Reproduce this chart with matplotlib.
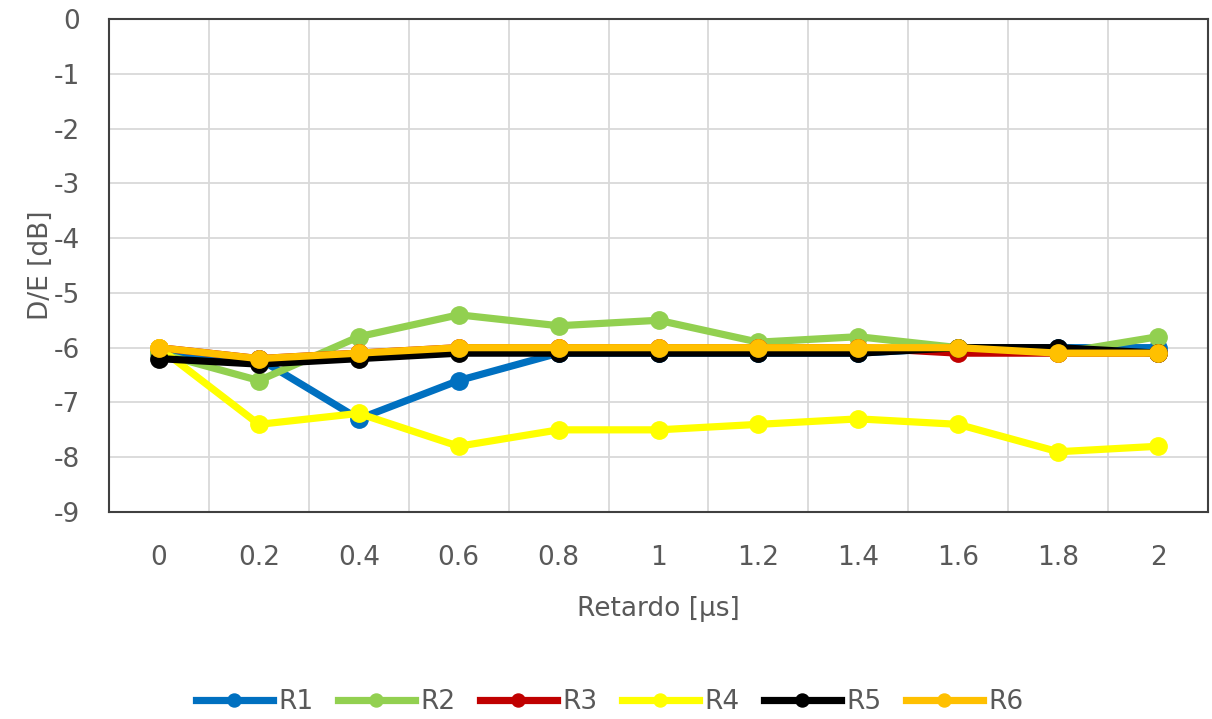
import matplotlib
matplotlib.use("Agg")
import matplotlib.pyplot as plt
import numpy as np

plt.rcParams['font.family'] = ['DejaVu Sans']
plt.rcParams['axes.unicode_minus'] = False

delays = ["0", "0.2", "0.4", "0.6", "0.8", "1", "1.2", "1.4", "1.6", "1.8", "2"]

r1 = [-6.1, -6.2, -7.3, -6.6, -6.1, -6.1, -6.1, -6.1, -6.0, -6.0, -6.0]
r2 = [-6.1, -6.6, -5.8, -5.4, -5.6, -5.5, -5.9, -5.8, -6.0, -6.1, -5.8]
r3 = [-6.0, -6.2, -6.1, -6.0, -6.0, -6.0, -6.0, -6.0, -6.1, -6.1, -6.1]
r4 = [-6.0, -7.4, -7.2, -7.8, -7.5, -7.5, -7.4, -7.3, -7.4, -7.9, -7.8]
r5 = [-6.2, -6.3, -6.2, -6.1, -6.1, -6.1, -6.1, -6.1, -6.0, -6.0, -6.1]
r6 = [-6.0, -6.2, -6.1, -6.0, -6.0, -6.0, -6.0, -6.0, -6.0, -6.1, -6.1]

series = [("R1", r1, "#0070C0"), ("R2", r2, "#92D050"), ("R3", r3, "#C00000"),
          ("R4", r4, "#FFFF00"), ("R5", r5, "#000000"), ("R6", r6, "#FFC000")]

fig = plt.figure(figsize=(12.12, 7.19), dpi=100)
ax = fig.add_axes([109 / 1212, 1 - 512 / 719, (1208 - 109) / 1212, (512 - 19) / 719])

x = np.arange(len(delays))
for name, vals, col in series:
    ax.plot(x, vals, color=col, lw=5.2, marker='o', markersize=12.5,
            markeredgecolor=col, label=name, solid_joinstyle='round')

ax.set_xlim(-0.5, len(delays) - 0.5)
ax.set_ylim(-9, 0)
ax.set_yticks(np.arange(-9, 1, 1))
ax.set_xticks(x)
ax.set_xticklabels(delays)
ax.set_xticks(np.arange(0.5, len(delays) - 0.5, 1), minor=True)

ax.grid(False)
ax.yaxis.grid(True, color='#D9D9D9', lw=1.3)
ax.xaxis.grid(True, which='minor', color='#D9D9D9', lw=1.3)
ax.set_axisbelow(True)

for s in ax.spines.values():
    s.set_color('#404040')
    s.set_linewidth(1.5)

ax.tick_params(axis='both', which='both', length=0, labelsize=19, labelcolor='#595959')
ax.tick_params(axis='x', pad=24)
ax.tick_params(axis='y', pad=21)

ax.set_xlabel("Retardo [µs]", fontsize=19, color='#595959', labelpad=18)
ax.set_ylabel("D/E [dB]", fontsize=19, color='#595959', labelpad=0)

fig.legend(loc='center', bbox_to_anchor=(0.503, 1 - 702 / 719), ncol=6,
           frameon=False, fontsize=19, handlelength=2.9, markerscale=0.75,
           columnspacing=0.95, handletextpad=0.2, labelcolor='#595959')

fig.savefig("out.png", dpi=100)
